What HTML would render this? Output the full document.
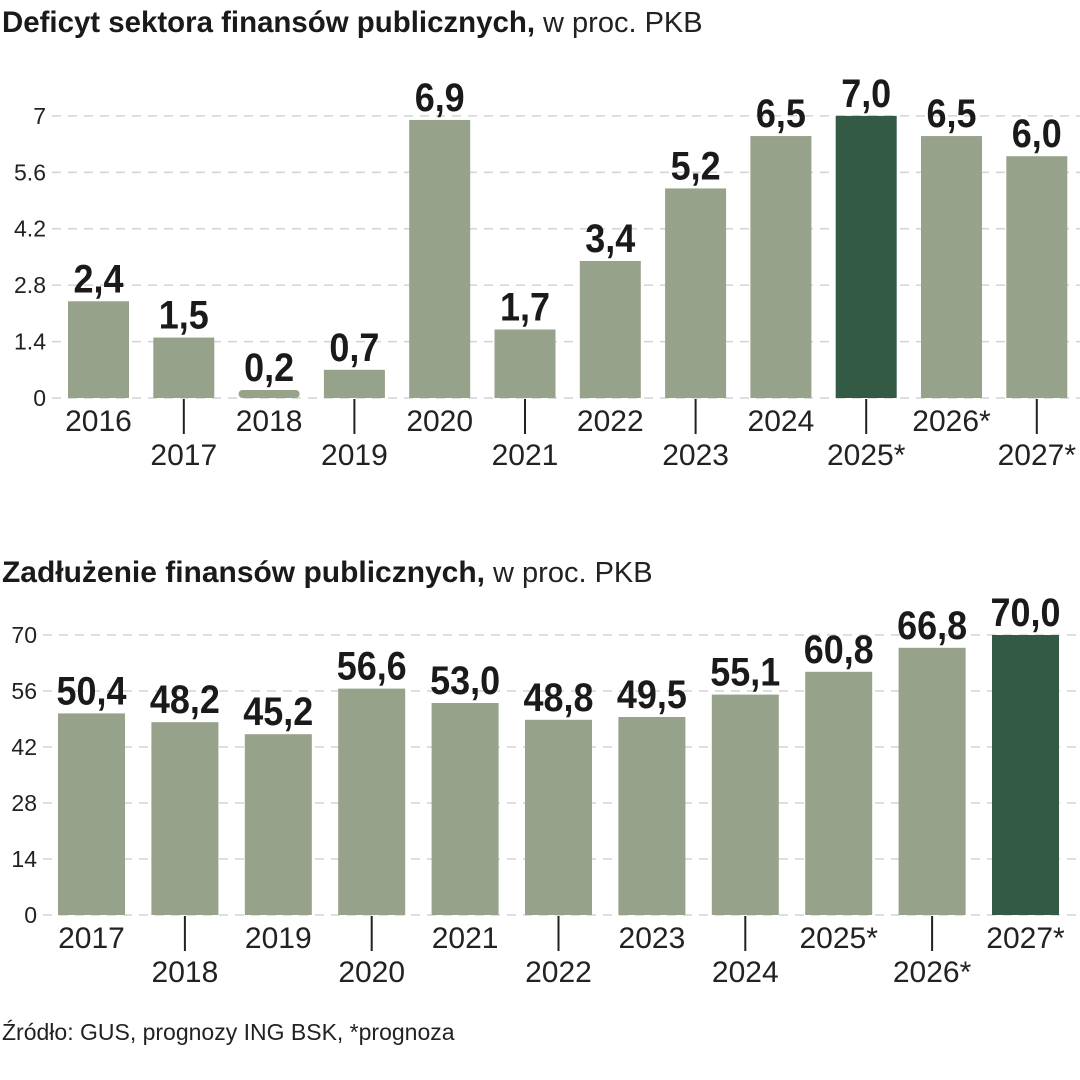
<!DOCTYPE html>
<html><head><meta charset="utf-8"><style>
body{margin:0;background:#fff;}
svg{display:block;}
.t{font-family:"Liberation Sans Narrow","Liberation Sans",sans-serif;font-weight:bold;fill:#1a1a1a;}
.r{font-family:"Liberation Sans",sans-serif;fill:#222;}
</style></head><body>
<svg id="c" width="1080" height="1080" xmlns="http://www.w3.org/2000/svg">
<rect width="1080" height="1080" fill="#fff"/>
<text x="2" y="32" font-size="29"><tspan class="t" font-size="30" textLength="533" lengthAdjust="spacingAndGlyphs">Deficyt sektora finansów publicznych,</tspan><tspan class="r"> w proc. PKB</tspan></text>
<text x="2" y="582" font-size="29"><tspan class="t" font-size="30" textLength="483" lengthAdjust="spacingAndGlyphs">Zadłużenie finansów publicznych,</tspan><tspan class="r"> w proc. PKB</tspan></text>
<text class="r" x="2" y="1040" font-size="23">Źródło: GUS, prognozy ING BSK, *prognoza</text>
</svg>
<script>
const defCats=["2016","2017","2018","2019","2020","2021","2022","2023","2024","2025*","2026*","2027*"];
const defVals=[2.4,1.5,0.2,0.7,6.9,1.7,3.4,5.2,6.5,7.0,6.5,6.0];
const defTicks=[0,1.4,2.8,4.2,5.6,7];
const defHighlight="2025*";
const debtCats=["2017","2018","2019","2020","2021","2022","2023","2024","2025*","2026*","2027*"];
const debtVals=[50.4,48.2,45.2,56.6,53.0,48.8,49.5,55.1,60.8,66.8,70.0];
const debtTicks=[0,14,28,42,56,70];
const debtHighlight="2027*";
const NS="http://www.w3.org/2000/svg";
const svg=document.getElementById('c');
function mk(tag,attrs,text){const e=document.createElementNS(NS,tag);for(const k in attrs)e.setAttribute(k,attrs[k]);if(text!==undefined)e.textContent=text;svg.appendChild(e);return e;}
function draw(cfg){
  const {cats,vals,ticks,hl,y0,ppu,x0,step,bw,gx,pre}=cfg;
  const ys=v=>y0-v*ppu;
  ticks.forEach(t=>{
    const g=mk('line',{x1:gx,x2:1080,y1:ys(t),y2:ys(t),stroke:'#d4d4d4','stroke-width':1.5,'stroke-dasharray':'9,7'});
    
    
    const l=mk('text',{x:gx-6,y:ys(t)+8,'font-size':23,'text-anchor':'end',class:'r'},String(t));
    
    
  });
  cats.forEach((c,i)=>{
    const x=x0+i*step, v=vals[i], top=ys(v), h=Math.max(y0-top,1);
    let b;
    if(v<0.5){b=mk('rect',{x:x,y:y0-8,width:bw,height:8,rx:4,fill:'#96a28a'});}
    else b=mk('rect',{x:x,y:top,width:bw,height:h,fill:c===hl?'#335a45':'#96a28a'});
    
    
    const s=v.toFixed(1).replace('.',',');
    const tl=(s.length-1)*20+10;
    const vt=mk('text',{x:x+bw/2,y:(v<0.5?y0-8:top)-9,'font-size':40,'text-anchor':'middle',class:'t',textLength:tl,lengthAdjust:'spacingAndGlyphs'},s);
    
    
    const odd=i%2===1;
    if(odd){
      const tk=mk('line',{x1:x+bw/2,x2:x+bw/2,y1:y0+1,y2:y0+36,stroke:'#222','stroke-width':2});
      
      
    }
    const xl=mk('text',{x:x+bw/2,y:y0+(odd?67:33),'font-size':30,'text-anchor':'middle',class:'r'},c);
    
    
  });
}
draw({cats:defCats,vals:defVals,ticks:defTicks,hl:defHighlight,y0:398,ppu:40.3,x0:68,step:85.3,bw:61,gx:52,pre:'deficit-'});
draw({cats:debtCats,vals:debtVals,ticks:debtTicks,hl:debtHighlight,y0:915,ppu:4.0,x0:58,step:93.4,bw:67,gx:43,pre:'debt-'});
</script>
</body></html>
